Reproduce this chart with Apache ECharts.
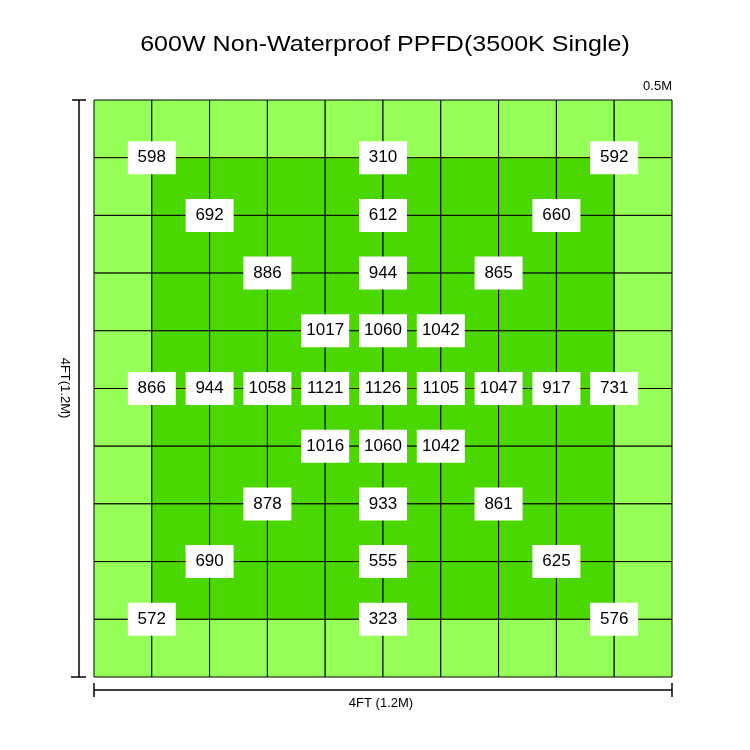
<!DOCTYPE html>
<html><head><meta charset="utf-8">
<script src="https://cdn.jsdelivr.net/npm/echarts@6/dist/echarts.min.js"></script>
<style>html,body{margin:0;padding:0;background:#fff}#c{width:750px;height:750px}</style>
</head><body><div id="c"></div>
<script>
// zone map: 0 = outer (light), 1 = inner (dark); rows top to bottom
var zoneRows = [
  [0,0,0,0,0,0,0,0,0,0],
  [0,1,1,1,1,1,1,1,1,0],
  [0,1,1,1,1,1,1,1,1,0],
  [0,1,1,1,1,1,1,1,1,0],
  [0,1,1,1,1,1,1,1,1,0],
  [0,1,1,1,1,1,1,1,1,0],
  [0,1,1,1,1,1,1,1,1,0],
  [0,1,1,1,1,1,1,1,1,0],
  [0,1,1,1,1,1,1,1,1,0],
  [0,0,0,0,0,0,0,0,0,0]
];
// PPFD readings at grid intersections (x index, y index from top)
var labelX = [1,5,9, 2,5,8, 3,5,7, 4,5,6, 1,2,3,4,5,6,7,8,9, 4,5,6, 3,5,7, 2,5,8, 1,5,9];
var labelY = [1,1,1, 2,2,2, 3,3,3, 4,4,4, 5,5,5,5,5,5,5,5,5, 6,6,6, 7,7,7, 8,8,8, 9,9,9];
var ppfd   = [598,310,592, 692,612,660, 886,944,865, 1017,1060,1042,
              866,944,1058,1121,1126,1105,1047,917,731,
              1016,1060,1042, 878,933,861, 690,555,625, 572,323,576];
var titleText = '600W Non-Waterproof PPFD(3500K Single)';
var sideText = '4FT(1.2M)';
var bottomTextA = '4FT (';
var bottomTextB = '1.2M';
var bottomTextC = ')';
var cornerText = '0.5M';
var zoneColors = ['#95FF57', '#4AD800'];

var cells = [];
zoneRows.forEach(function(row, r){ row.forEach(function(z, c){ cells.push([c, r, z]); }); });
var labels = ppfd.map(function(v, i){ return [labelX[i], labelY[i], v]; });

var FF = 'Liberation Sans, Arial';
var chart = echarts.init(document.getElementById('c'));
var G = {left:94, top:100, w:578, h:577};
chart.setOption({
  backgroundColor:'#fff',
  animation:false,
  grid:{left:G.left, top:G.top, width:G.w, height:G.h},
  xAxis:{type:'value', min:0, max:10, interval:1, show:false},
  yAxis:{type:'value', min:0, max:10, interval:1, inverse:true, show:false},
  series:[
    {type:'custom', data:cells, z:1,
     renderItem:function(params, api){
       var p0 = api.coord([api.value(0), api.value(1)]);
       var p1 = api.coord([api.value(0)+1, api.value(1)+1]);
       return {type:'rect', shape:{x:p0[0], y:p0[1], width:p1[0]-p0[0], height:p1[1]-p0[1]},
         style:{fill:zoneColors[api.value(2)], stroke:'#000', lineWidth:1}};
     }},
    {type:'scatter', data:labels, z:5, symbol:'rect', symbolSize:[48,33],
     itemStyle:{color:'#fff', opacity:1},
     label:{show:true, position:'inside', formatter:function(p){return p.value[2];},
       fontFamily:FF, fontSize:17, color:'#000'}}
  ],
  graphic:[
    {type:'text', x:385, y:45, scaleX:1.14,
     style:{text:titleText, fontFamily:FF, fontSize:22, fill:'#000', textAlign:'center', textVerticalAlign:'middle'}},
    // left dimension line
    {type:'line', shape:{x1:79, y1:100, x2:79, y2:677}, style:{stroke:'#000', lineWidth:1.5}},
    {type:'line', shape:{x1:72, y1:100, x2:86, y2:100}, style:{stroke:'#000', lineWidth:1.5}},
    {type:'line', shape:{x1:71, y1:677, x2:86, y2:677}, style:{stroke:'#000', lineWidth:1.5}},
    {type:'text', x:65, y:388, rotation:-Math.PI/2,
     style:{text:sideText, fontFamily:FF, fontSize:13, fill:'#000', textAlign:'center', textVerticalAlign:'middle'}},
    // bottom dimension line
    {type:'line', shape:{x1:94, y1:690, x2:672, y2:690}, style:{stroke:'#000', lineWidth:1.5}},
    {type:'line', shape:{x1:94, y1:683, x2:94, y2:697}, style:{stroke:'#000', lineWidth:1.5}},
    {type:'line', shape:{x1:672, y1:683, x2:672, y2:697}, style:{stroke:'#000', lineWidth:1.5}},
    {type:'text', x:381, y:703,
     style:{text:'{a|' + bottomTextA + '}{b|' + bottomTextB + '}{a|' + bottomTextC + '}',
       textAlign:'center', textVerticalAlign:'middle',
       rich:{a:{fontFamily:FF, fontSize:13, fill:'#000', color:'#000'},
             b:{fontFamily:FF, fontSize:13, fontWeight:500, fill:'#000', color:'#000'}}}},
    {type:'text', x:672, y:86,
     style:{text:cornerText, fontFamily:FF, fontSize:13, fill:'#000', textAlign:'right', textVerticalAlign:'middle'}}
  ]
});
</script></body></html>
